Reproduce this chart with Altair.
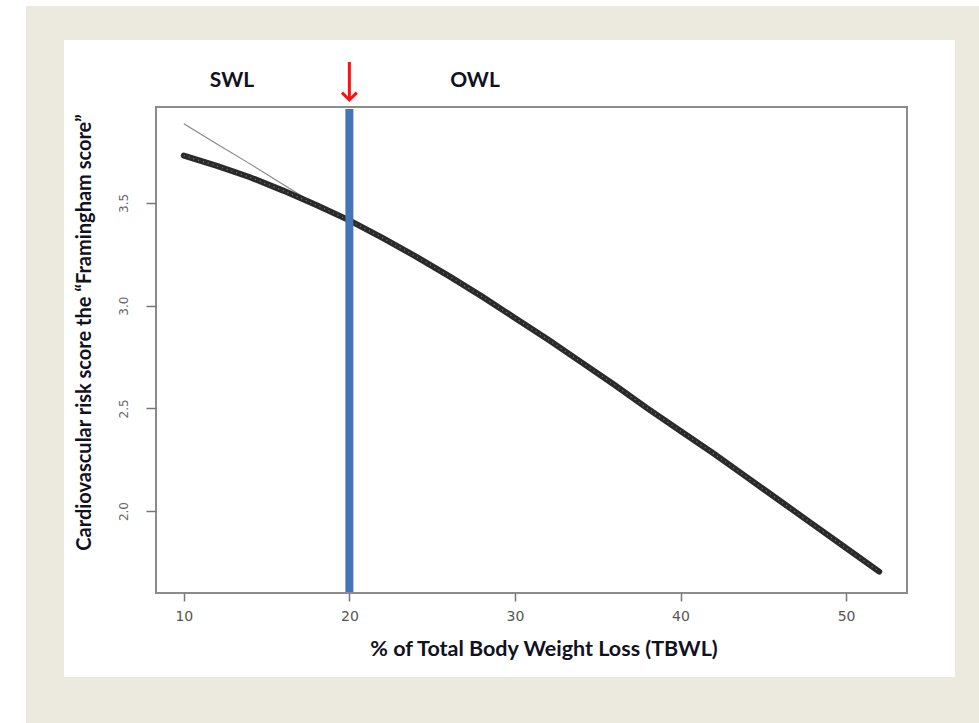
import altair as alt
import pandas as pd

# % of total body weight loss and the predicted Framingham score
tbwl = [10, 12, 14, 16, 18, 20, 22, 24, 26, 28, 30, 32, 34, 36, 38, 40,
        42, 44, 46, 48, 50, 52]
framingham = [3.73, 3.68, 3.625, 3.56, 3.49, 3.415, 3.33, 3.24, 3.145, 3.045,
              2.94, 2.835, 2.725, 2.615, 2.50, 2.39, 2.28, 2.165, 2.05, 1.935,
              1.82, 1.705]
# thin reference line (straight at the low end, then along the curve)
trend = [3.885, 3.787, 3.69, 3.59, 3.49, 3.415, 3.33, 3.24, 3.145, 3.045,
         2.94, 2.835, 2.725, 2.615, 2.50, 2.39, 2.28, 2.165, 2.05, 1.935,
         1.82, 1.705]

x_ticks = [10, 20, 30, 40, 50]
y_ticks = [2.0, 2.5, 3.0, 3.5]
threshold = 20
zone_labels = ["SWL", "OWL"]

W, H = 751, 486
PAD = {"left": 156, "top": 107, "right": 72, "bottom": 130}

df = pd.DataFrame({"tbwl": tbwl, "score": framingham, "trend": trend})

x_scale = alt.Scale(domain=[8.32, 53.68], nice=False, zero=False)
y_scale = alt.Scale(domain=[1.601, 3.967], nice=False, zero=False)

x_enc = alt.X("tbwl:Q", scale=x_scale,
              axis=alt.Axis(values=x_ticks, title="% of Total Body Weight Loss (TBWL)",
                            domain=False, grid=False, tickSize=8, tickColor="#777",
                            tickWidth=1.5, labelColor="#555", labelFontSize=14,
                            labelFont="DejaVu Sans", labelPadding=8,
                            titleFont="Lato", titleFontSize=21.5, titleFontWeight="bold",
                            titleColor="#111122", titlePadding=15, titleX=W / 2 + 12,
                            zindex=1))
y_axis = alt.Axis(values=y_ticks, format=".1f",
                  title="Cardiovascular risk score the \u201cFramingham score\u201d",
                  domain=False, grid=False, tickSize=10, tickColor="#777",
                  tickWidth=1.5, labelColor="#666", labelFontSize=12,
                  labelFont="DejaVu Sans", labelAngle=-90, labelAlign="center",
                  labelBaseline="bottom", labelPadding=16,
                  titleFont="Lato", titleFontSize=20, titleFontWeight="bold",
                  titleColor="#111122", titlePadding=23, titleY=225, zindex=1)

one = alt.Data(values=[{}])

outer = alt.Chart(one).mark_rect(color="#ECE9DF").encode(
    x=alt.value(26 - PAD["left"]), x2=alt.value(979 - PAD["left"]),
    y=alt.value(6 - PAD["top"]), y2=alt.value(723 - PAD["top"]))
panel = alt.Chart(one).mark_rect(color="white").encode(
    x=alt.value(64 - PAD["left"]), x2=alt.value(955 - PAD["left"]),
    y=alt.value(40 - PAD["top"]), y2=alt.value(677 - PAD["top"]))
box = alt.Chart(one).mark_rect(fillOpacity=0, stroke="#8c8c8c", strokeWidth=2).encode(
    x=alt.value(0), x2=alt.value(W), y=alt.value(0), y2=alt.value(H))

base = alt.Chart(df)
thin = base.mark_line(color="#858585", strokeWidth=1.1).encode(
    x=x_enc, y=alt.Y("trend:Q", scale=y_scale, axis=y_axis))
thick = base.mark_line(color="#2a2a2a", strokeWidth=6, strokeCap="round").encode(
    x=alt.X("tbwl:Q", scale=x_scale), y=alt.Y("score:Q", scale=y_scale))
texture = base.mark_line(color="#b0b0b0", strokeWidth=1.2, strokeDash=[1, 4],
                         opacity=0.6).encode(
    x=alt.X("tbwl:Q", scale=x_scale), y=alt.Y("score:Q", scale=y_scale))

thr = pd.DataFrame({"tbwl": [threshold]})
blue = alt.Chart(thr).mark_rule(color="#4674B8", strokeWidth=8).encode(
    x=alt.X("tbwl:Q", scale=x_scale), y=alt.value(2), y2=alt.value(H - 1))
shaft = alt.Chart(thr).mark_rule(color="#FF1010", strokeWidth=3).encode(
    x=alt.X("tbwl:Q", scale=x_scale), y=alt.value(-45), y2=alt.value(-9))
head = alt.Chart(thr).mark_point(shape="M -1 -1 L 0 0 L 1 -1", size=220,
                                 stroke="#FF1010", strokeWidth=3, filled=False,
                                 opacity=1).encode(
    x=alt.X("tbwl:Q", scale=x_scale), y=alt.value(-7))

labels = pd.DataFrame({"zone": zone_labels, "px": [232 - PAD["left"], 475 - PAD["left"]]})
zone_text = alt.Chart(labels).mark_text(font="Lato", fontSize=21, fontWeight="bold",
                                        color="#111122", baseline="alphabetic").encode(
    x=alt.X("px:Q", scale=None), y=alt.value(87 - PAD["top"]), text="zone:N")

chart = alt.layer(outer, panel, box, thin, thick, texture, blue, shaft, head,
                  zone_text).properties(
    width=W, height=H, autosize=alt.AutoSizeParams(type="none"),
    padding=PAD, background="white"
).configure_view(strokeWidth=0)

chart.save("out.html", embed_options={"renderer": "svg", "actions": False})
